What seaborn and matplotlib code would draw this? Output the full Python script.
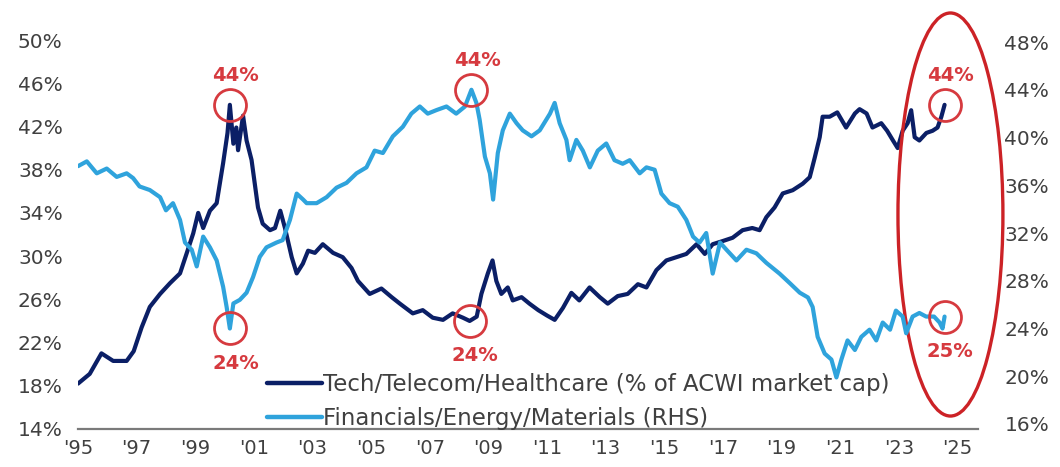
import matplotlib
matplotlib.use("Agg")
import matplotlib.pyplot as plt
from matplotlib.patches import Ellipse
from matplotlib.lines import Line2D
import pandas as pd
import seaborn as sns

# Tech/Telecom/Healthcare share of ACWI market cap (left axis, %)
tech_years = [
    1995.00, 1995.40, 1995.80, 1996.20, 1996.66, 1996.90, 1997.17, 1997.45, 1997.80,
    1998.14, 1998.48, 1998.70, 1998.93, 1999.10, 1999.27, 1999.50, 1999.73, 1999.95,
    2000.10, 2000.18, 2000.30, 2000.40, 2000.46, 2000.63, 2000.75, 2000.92, 2001.03,
    2001.14, 2001.30, 2001.55, 2001.72, 2001.90, 2002.06, 2002.29, 2002.46, 2002.67,
    2002.85, 2003.08, 2003.35, 2003.70, 2004.03, 2004.33, 2004.55, 2004.95, 2005.35,
    2005.70, 2005.98, 2006.42, 2006.76, 2007.10, 2007.45, 2007.78, 2008.13, 2008.36,
    2008.60, 2008.76, 2008.98, 2009.14, 2009.27, 2009.44, 2009.66, 2009.83, 2010.13,
    2010.40, 2010.70, 2011.00, 2011.26, 2011.54, 2011.83, 2012.10, 2012.45, 2012.80,
    2013.07, 2013.41, 2013.75, 2014.10, 2014.39, 2014.73, 2015.07, 2015.41, 2015.75,
    2016.10, 2016.38, 2016.65, 2017.00, 2017.33, 2017.67, 2018.00, 2018.25, 2018.48,
    2018.76, 2019.04, 2019.38, 2019.72, 2019.96, 2020.13, 2020.30, 2020.40, 2020.64,
    2020.90, 2021.20, 2021.50, 2021.66, 2021.90, 2022.10, 2022.40, 2022.60, 2022.80,
    2022.96, 2023.13, 2023.30, 2023.42, 2023.54, 2023.70, 2023.94, 2024.15, 2024.32,
    2024.45, 2024.56,
]
tech_share = [
    18.2, 19.1, 21.0, 20.3, 20.3, 21.2, 23.4, 25.3, 26.5,
    27.5, 28.4, 30.2, 32.1, 34.0, 32.6, 34.2, 34.9, 38.6,
    41.4, 44.0, 40.4, 41.9, 39.8, 43.0, 40.7, 38.9, 36.7,
    34.5, 33.0, 32.4, 32.6, 34.2, 32.6, 29.9, 28.4, 29.3,
    30.5, 30.3, 31.1, 30.3, 29.9, 28.9, 27.7, 26.5, 27.0,
    26.2, 25.6, 24.7, 25.0, 24.3, 24.1, 24.7, 24.3, 24.0,
    24.4, 26.5, 28.4, 29.6, 27.7, 26.5, 27.1, 25.9, 26.2,
    25.6, 25.0, 24.5, 24.1, 25.2, 26.6, 25.9, 27.1, 26.2,
    25.6, 26.3, 26.5, 27.4, 27.1, 28.7, 29.6, 29.9, 30.2,
    31.1, 30.2, 31.1, 31.4, 31.7, 32.4, 32.6, 32.4, 33.6,
    34.5, 35.8, 36.1, 36.7, 37.3, 39.1, 41.0, 42.9, 42.9,
    43.3, 41.9, 43.2, 43.6, 43.2, 41.9, 42.3, 41.6, 40.7,
    40.0, 41.6, 42.3, 43.5, 41.0, 40.7, 41.4, 41.6, 41.9,
    42.9, 44.0,
]

# Financials/Energy/Materials share (right axis, %)
fin_years = [
    1995.00, 1995.30, 1995.64, 1995.98, 1996.32, 1996.66, 1996.88, 1997.10, 1997.45,
    1997.80, 1998.00, 1998.24, 1998.48, 1998.65, 1998.88, 1999.05, 1999.27, 1999.50,
    1999.73, 1999.95, 2000.07, 2000.18, 2000.30, 2000.52, 2000.75, 2000.97, 2001.20,
    2001.43, 2001.77, 2001.98, 2002.23, 2002.46, 2002.68, 2002.80, 2003.14, 2003.48,
    2003.82, 2004.16, 2004.50, 2004.84, 2005.12, 2005.40, 2005.74, 2006.08, 2006.37,
    2006.66, 2006.93, 2007.23, 2007.57, 2007.90, 2008.20, 2008.42, 2008.59, 2008.70,
    2008.88, 2009.05, 2009.16, 2009.32, 2009.49, 2009.73, 2009.96, 2010.17, 2010.47,
    2010.75, 2011.10, 2011.26, 2011.43, 2011.66, 2011.77, 2012.00, 2012.22, 2012.46,
    2012.73, 2013.02, 2013.30, 2013.58, 2013.82, 2014.16, 2014.39, 2014.67, 2014.90,
    2015.18, 2015.46, 2015.75, 2015.98, 2016.20, 2016.43, 2016.65, 2016.90, 2017.12,
    2017.46, 2017.80, 2018.14, 2018.48, 2018.93, 2019.28, 2019.62, 2019.90, 2020.06,
    2020.23, 2020.47, 2020.70, 2020.87, 2021.04, 2021.25, 2021.50, 2021.72, 2022.00,
    2022.23, 2022.45, 2022.70, 2022.90, 2023.13, 2023.25, 2023.47, 2023.70, 2023.93,
    2024.20, 2024.39, 2024.49, 2024.56,
]
fin_share = [
    37.6, 38.0, 37.0, 37.4, 36.7, 37.0, 36.6, 35.9, 35.6,
    35.0, 33.9, 34.5, 33.1, 31.2, 30.6, 29.2, 31.7, 30.8,
    29.7, 27.5, 25.8, 24.0, 26.1, 26.4, 27.0, 28.3, 30.0,
    30.8, 31.2, 31.4, 33.1, 35.3, 34.8, 34.5, 34.5, 35.0,
    35.8, 36.2, 37.0, 37.5, 38.9, 38.7, 40.1, 40.9, 42.0,
    42.6, 42.0, 42.3, 42.6, 42.0, 42.6, 44.0, 42.9, 41.5,
    38.4, 37.0, 34.8, 38.7, 40.6, 42.0, 41.2, 40.6, 40.1,
    40.6, 42.0, 42.9, 41.2, 39.8, 38.1, 39.8, 38.9, 37.5,
    38.9, 39.5, 38.1, 37.8, 38.1, 37.0, 37.5, 37.3, 35.3,
    34.5, 34.2, 33.1, 31.7, 31.2, 32.0, 28.6, 31.2, 30.6,
    29.7, 30.6, 30.3, 29.5, 28.6, 27.8, 27.0, 26.6, 25.8,
    23.3, 21.9, 21.4, 19.9, 21.4, 23.0, 22.2, 23.3, 23.9,
    23.0, 24.5, 23.9, 25.5, 25.0, 23.6, 25.0, 25.3, 25.0,
    25.0, 24.5, 24.0, 25.0,
]

left_ticks = [14, 18, 22, 26, 30, 34, 38, 42, 46, 50]
right_ticks = [16, 20, 24, 28, 32, 36, 40, 44, 48]
year_ticks = list(range(1995, 2026, 2))
year_labels = ["'" + str(y)[2:] for y in year_ticks]

tech_label = "Tech/Telecom/Healthcare (% of ACWI market cap)"
fin_label = "Financials/Energy/Materials (RHS)"

# Circled extremes: (year, label placement) for each series
tech_callouts = [(2000.18, "above"), (2008.36, "below"), (2024.56, "above")]
fin_callouts = [(2000.18, "below"), (2008.42, "above"), (2024.56, "below")]

NAVY = "#0b1f66"
SKY = "#2fa3dc"
RED = "#d63a3f"
TEXT = "#404040"

sns.set_style("white")
plt.rcParams["font.family"] = ["DejaVu Sans"]

fig = plt.figure(figsize=(10.6, 4.67), dpi=100)
ax = fig.add_axes([78 / 1060, (467 - 429) / 467, 900 / 1060, 389 / 467])
ax2 = ax.twinx()

tech_df = pd.DataFrame({"year": tech_years, "share": tech_share})
fin_df = pd.DataFrame({"year": fin_years, "share": fin_share})

sns.lineplot(data=tech_df, x="year", y="share", ax=ax, color=NAVY,
             linewidth=3.0, estimator=None)
sns.lineplot(data=fin_df, x="year", y="share", ax=ax2, color=SKY,
             linewidth=3.0, estimator=None)

ax.set_xlim(1995, 2025.7)
ax.set_ylim(14, 50)
ax2.set_ylim(15.58, 48.17)

ax.set_xticks(year_ticks)
ax.set_xticklabels(year_labels)
ax.set_yticks(left_ticks)
ax.set_yticklabels([f"{v}%" for v in left_ticks])
ax2.set_yticks(right_ticks)
ax2.set_yticklabels([f"{v}%" for v in right_ticks])

for a in (ax, ax2):
    a.set_xlabel("")
    a.set_ylabel("")
    for side in ("top", "left", "right", "bottom"):
        a.spines[side].set_visible(False)
ax.spines["bottom"].set_visible(True)
ax.spines["bottom"].set_color("#7a7a7a")
ax.spines["bottom"].set_linewidth(1.6)

ax.tick_params(axis="x", length=0, labelsize=14, colors=TEXT, pad=7)
ax.tick_params(axis="y", length=0, labelsize=14.5, colors=TEXT, pad=11)
ax2.tick_params(axis="y", length=0, labelsize=14.5, colors=TEXT, pad=19)


def circle_extremes(axis, years, values, callouts):
    for yr, where in callouts:
        i = years.index(yr)
        v = values[i]
        axis.plot([yr], [v], marker="o", ms=23, mfc="none", mec=RED,
                  mew=2.0, clip_on=False, zorder=5)
        dy = 21 if where == "above" else -25
        axis.annotate(f"{v:.0f}%", xy=(yr, v), xytext=(4, dy),
                      textcoords="offset points", ha="center", va="center",
                      color=RED, fontsize=14, fontweight="bold", zorder=6)


circle_extremes(ax, tech_years, tech_share, tech_callouts)
circle_extremes(ax2, fin_years, fin_share, fin_callouts)

# Large ring around the latest readings
ring = Ellipse((tech_years[-1] + 0.2, 33.85), width=3.58, height=37.3,
               transform=ax.transData, fill=False, edgecolor="#cc2226",
               linewidth=2.4, clip_on=False, zorder=4)
ax.add_patch(ring)

handles = [Line2D([], [], color=NAVY, lw=3.2), Line2D([], [], color=SKY, lw=3.2)]
leg = ax2.legend(handles, [tech_label, fin_label], loc="upper left",
                 bbox_to_anchor=(267 / 1060, 1 - 373 / 467),
                 bbox_transform=fig.transFigure, frameon=False,
                 fontsize=16.5, handlelength=2.4, handletextpad=0.05,
                 labelspacing=0.5, borderpad=0, borderaxespad=0)
for t in leg.get_texts():
    t.set_color(TEXT)

fig.savefig("out.png", dpi=100)
